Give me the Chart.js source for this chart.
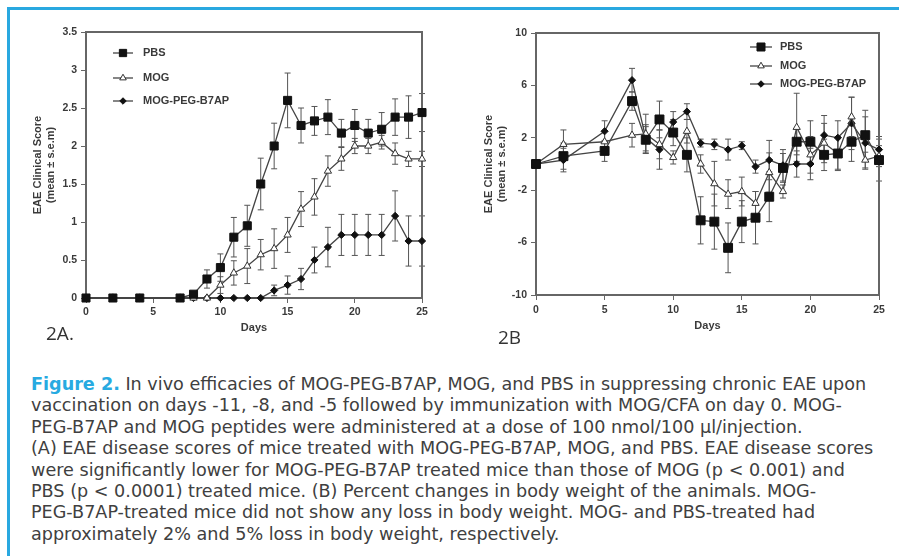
<!DOCTYPE html>
<html>
<head>
<meta charset="utf-8">
<script src="https://cdn.jsdelivr.net/npm/chart.js@4.4.1/dist/chart.umd.min.js"></script>
<style>
  html, body { margin: 0; padding: 0; background: #fff; }
  body { width: 899px; height: 556px; position: relative; overflow: hidden; }
  .frame { position: absolute; left: 7px; top: 7px; width: 892px; height: 549px;
           border-top: 3px solid #29a8e0; border-left: 3px solid #29a8e0; }
  .box { position: absolute; top: 0; height: 345px; }
  #boxA { left: 0; width: 450px; }
  #boxB { left: 450px; width: 449px; }
  .tag { position: absolute; font-family: "Open Sans", sans-serif; color: #333; font-size: 19px; }
  .caption { position: absolute; left: 31px; top: 374px; font-family: "DejaVu Sans", sans-serif;
             font-size: 17.6px; line-height: 21.4px; color: #404040; white-space: nowrap; }
  .caption b { color: #27aae1; }
</style>
</head>
<body>
<div class="frame"></div>
<div class="box" id="boxA"><canvas id="chartA"></canvas></div>
<div class="box" id="boxB"><canvas id="chartB"></canvas></div>
<div class="tag" style="left:46px; top:320px;">2A.</div>
<div class="tag" style="left:498px; top:324px;">2B</div>
<div class="caption">
<b>Figure 2.</b> In vivo efficacies of MOG-PEG-B7AP, MOG, and PBS in suppressing chronic EAE upon<br>
vaccination on days -11, -8, and -5 followed by immunization with MOG/CFA on day 0. MOG-<br>
PEG-B7AP and MOG peptides were administered at a dose of 100 nmol/100 µl/injection.<br>
(A) EAE disease scores of mice treated with MOG-PEG-B7AP, MOG, and PBS. EAE disease scores<br>
were significantly lower for MOG-PEG-B7AP treated mice than those of MOG (p &lt; 0.001) and<br>
PBS (p &lt; 0.0001) treated mice. (B) Percent changes in body weight of the animals. MOG-<br>
PEG-B7AP-treated mice did not show any loss in body weight. MOG- and PBS-treated had<br>
approximately 2% and 5% loss in body weight, respectively.
</div>
<script>
// --- panel A: clinical score ---
const daysA = [0, 2, 4, 7, 8, 9, 10, 11, 12, 13, 14, 15, 16, 17, 18, 19, 20, 21, 22, 23, 24, 25];
const pbsA = [0, 0, 0, 0, 0.05, 0.25, 0.4, 0.8, 0.95, 1.5, 2.0, 2.6, 2.27, 2.33, 2.38, 2.17, 2.27, 2.17, 2.22, 2.38, 2.38, 2.44];
const pbsErrA = [0, 0, 0, 0, 0.03, 0.12, 0.18, 0.26, 0.27, 0.34, 0.3, 0.36, 0.23, 0.19, 0.23, 0.18, 0.21, 0.18, 0.22, 0.24, 0.28, 0.25];
const mogA = [0, 0, 0, 0, 0, 0, 0.17, 0.33, 0.42, 0.57, 0.65, 0.83, 1.17, 1.33, 1.67, 1.83, 2.0, 2.0, 2.05, 1.9, 1.83, 1.83];
const mogErrA = [0, 0, 0, 0, 0, 0, 0.11, 0.16, 0.23, 0.2, 0.26, 0.23, 0.23, 0.24, 0.2, 0.15, 0.1, 0.1, 0.09, 0.14, 0.1, 0.1];
const pegA = [0, 0, 0, 0, 0, 0, 0, 0, 0, 0, 0.1, 0.17, 0.25, 0.5, 0.67, 0.83, 0.83, 0.83, 0.83, 1.08, 0.75, 0.75];
const pegErrA = [0, 0, 0, 0, 0, 0, 0, 0, 0, 0, 0.07, 0.12, 0.14, 0.17, 0.26, 0.27, 0.27, 0.27, 0.27, 0.33, 0.33, 0.33];
const yTicksA = [0, 0.5, 1, 1.5, 2, 2.5, 3, 3.5];

// --- panel B: body weight change ---
const daysB = [0, 2, 5, 7, 8, 9, 10, 11, 12, 13, 14, 15, 16, 17, 18, 19, 20, 21, 22, 23, 24, 25];
const pbsB = [0, 0.6, 1.0, 4.8, 1.85, 3.4, 2.4, 0.7, -4.3, -4.4, -6.4, -4.4, -4.1, -2.5, -0.3, 1.7, 1.7, 0.7, 0.8, 1.7, 2.2, 0.3];
const pbsErrB = [0, 1.0, 0.8, 0.7, 1.0, 1.4, 1.0, 1.3, 1.8, 2.1, 1.9, 1.6, 2.0, 1.9, 1.1, 1.0, 1.6, 1.2, 1.2, 1.5, 1.9, 1.6];
const mogB = [0, 1.5, 1.7, 2.2, 2.3, 1.5, 0.5, 2.5, 0.0, -1.5, -2.3, -2.1, -3.0, -0.65, -2.1, 2.8, 0.7, 1.6, 0.8, 3.6, 0.3, 0.6];
const mogErrB = [0, 1.1, 0.8, 0.9, 1.5, 1.1, 0.5, 0.9, 0.7, 1.7, 1.1, 1.1, 0.9, 1.5, 0.5, 2.6, 1.4, 1.5, 1.3, 1.5, 0.6, 0.8];
const pegB = [0, 0.3, 2.5, 6.4, 2.0, 1.1, 3.2, 4.0, 1.6, 1.5, 1.1, 1.4, -0.2, 0.3, -0.1, 0.0, 0.0, 2.2, 2.0, 3.1, 1.6, 1.1];
const pegErrB = [0, 0.9, 0.8, 0.9, 1.0, 1.5, 0.8, 0.6, 0.3, 0.4, 0.8, 0.3, 0.5, 1.5, 1.2, 1.0, 1.2, 1.5, 1.3, 2.0, 2.0, 1.0];
const yTicksB = [-10, -6, -2, 2, 6, 10];

const xTicks = [0, 5, 10, 15, 20, 25];
const seriesNames = ["PBS", "MOG", "MOG-PEG-B7AP"];
const yTitle = ["EAE Clinical Score", "(mean ± s.e.m)"];

const ink = "#3a3a3a";
const tickFont = { family: "Liberation Sans, Arial, sans-serif", size: 10.5, weight: "bold" };
const labelFont = { family: "Liberation Sans, Arial, sans-serif", size: 11, weight: "bold" };

// vertical error bars, drawn under the markers
const errorBars = {
  id: "errorBars",
  beforeDatasetsDraw(chart) {
    const ctx = chart.ctx, y = chart.scales.y;
    ctx.save();
    ctx.strokeStyle = "#555";
    ctx.lineWidth = 1;
    chart.data.datasets.forEach((ds, di) => {
      const meta = chart.getDatasetMeta(di);
      ds.errors.forEach((e, i) => {
        if (!e) return;
        const px = meta.data[i].x, v = ds.data[i].y;
        const top = y.getPixelForValue(v + e), bot = y.getPixelForValue(v - e);
        ctx.beginPath();
        ctx.moveTo(px, top); ctx.lineTo(px, bot);
        ctx.moveTo(px - 3, top); ctx.lineTo(px + 3, top);
        ctx.moveTo(px - 3, bot); ctx.lineTo(px + 3, bot);
        ctx.stroke();
      });
    });
    // plot box
    const a = chart.chartArea;
    ctx.strokeStyle = "#666";
    ctx.lineWidth = 2;
    ctx.strokeRect(a.left, a.top, a.right - a.left, a.bottom - a.top);
    ctx.restore();
  }
};

// legend inside the plot box
const innerLegend = {
  id: "innerLegend",
  afterDraw(chart, args, opts) {
    const ctx = chart.ctx, a = chart.chartArea;
    ctx.save();
    chart.data.datasets.forEach((ds, i) => {
      const yy = a.top + opts.rows[i];
      ctx.strokeStyle = ds.borderColor;
      ctx.lineWidth = ds.borderWidth;
      ctx.beginPath();
      ctx.moveTo(a.left + opts.x1, yy); ctx.lineTo(a.left + opts.x2, yy);
      ctx.stroke();
      ctx.fillStyle = ds.pointBackgroundColor;
      ctx.strokeStyle = ds.pointBorderColor;
      ctx.lineWidth = 1;
      Chart.helpers.drawPoint(ctx, { pointStyle: ds.pointStyle, radius: ds.pointRadius * 0.9, rotation: 0, borderWidth: 1 },
        a.left + (opts.x1 + opts.x2) / 2, yy);
      ctx.fillStyle = ink;
      ctx.font = "bold 11px Liberation Sans, Arial, sans-serif";
      ctx.textBaseline = "middle";
      ctx.fillText(ds.label, a.left + opts.tx, yy);
    });
    ctx.restore();
  }
};

function series(days, vals, errs, i, big) {
  const styles = [
    { pointStyle: "rect", pointRadius: big, pointBackgroundColor: "#111", pointBorderColor: "#111" },
    { pointStyle: "triangle", pointRadius: 4.2, pointBackgroundColor: "#fff", pointBorderColor: "#333" },
    { pointStyle: "rectRot", pointRadius: 3.6, pointBackgroundColor: "#111", pointBorderColor: "#111" }
  ];
  return Object.assign({
    label: seriesNames[i],
    data: days.map((d, k) => ({ x: d, y: vals[k] })),
    errors: errs,
    borderColor: "#444",
    borderWidth: 1.3,
    pointBorderWidth: 1,
    pointHoverRadius: 0,
    clip: false
  }, styles[i]);
}

function makeChart(id, sets, yTicks, yMin, yMax, pad, xAxisH, xTitlePad, xTickPad, yTitlePad, legend) {
  return new Chart(document.getElementById(id), {
    type: "line",
    data: { datasets: sets },
    options: {
      responsive: true,
      maintainAspectRatio: false,
      animation: false,
      events: [],
      layout: { padding: pad },
      plugins: { legend: { display: false }, tooltip: { enabled: false }, innerLegend: legend },
      scales: {
        x: {
          type: "linear", min: 0, max: 25,
          afterBuildTicks: s => { s.ticks = xTicks.map(v => ({ value: v })); },
          afterFit: s => { s.height = xAxisH; },
          grid: { drawOnChartArea: false, drawTicks: true, tickLength: 5, color: "#666" },
          border: { display: false },
          ticks: { font: tickFont, color: ink, padding: xTickPad, maxRotation: 0, callback: v => String(v) },
          title: { display: true, text: "Days", font: labelFont, color: ink, padding: { top: 0, bottom: xTitlePad } }
        },
        y: {
          min: yMin, max: yMax,
          afterBuildTicks: s => { s.ticks = yTicks.map(v => ({ value: v })); },
          afterFit: s => { s.width = 86; },
          grid: { drawOnChartArea: false, drawTicks: true, tickLength: 5, color: "#666" },
          border: { display: false },
          ticks: { font: tickFont, color: ink, padding: 4, callback: v => String(v) },
          title: { display: true, text: yTitle, font: labelFont, color: ink, padding: { top: yTitlePad, bottom: 0 } }
        }
      }
    },
    plugins: [errorBars, innerLegend]
  });
}

makeChart("chartA",
  [series(daysA, pbsA, pbsErrA, 0, 5.7), series(daysA, mogA, mogErrA, 1), series(daysA, pegA, pegErrA, 2)],
  yTicksA, 0, 3.5, { left: 0, right: 28, top: 32, bottom: 0 }, 47, 10.4, 3, 31.4,
  { x1: 27, x2: 47, tx: 57, rows: [21, 46, 69] });

makeChart("chartB",
  [series(daysB, pbsB, pbsErrB, 0, 6.3), series(daysB, mogB, mogErrB, 1), series(daysB, pegB, pegErrB, 2)],
  yTicksB, -10, 10, { left: 0, right: 20, top: 33, bottom: 0 }, 50, 12.4, 4, 32.4,
  { x1: 214, x2: 236, tx: 244, rows: [14, 33, 51] });
</script>
</body>
</html>
